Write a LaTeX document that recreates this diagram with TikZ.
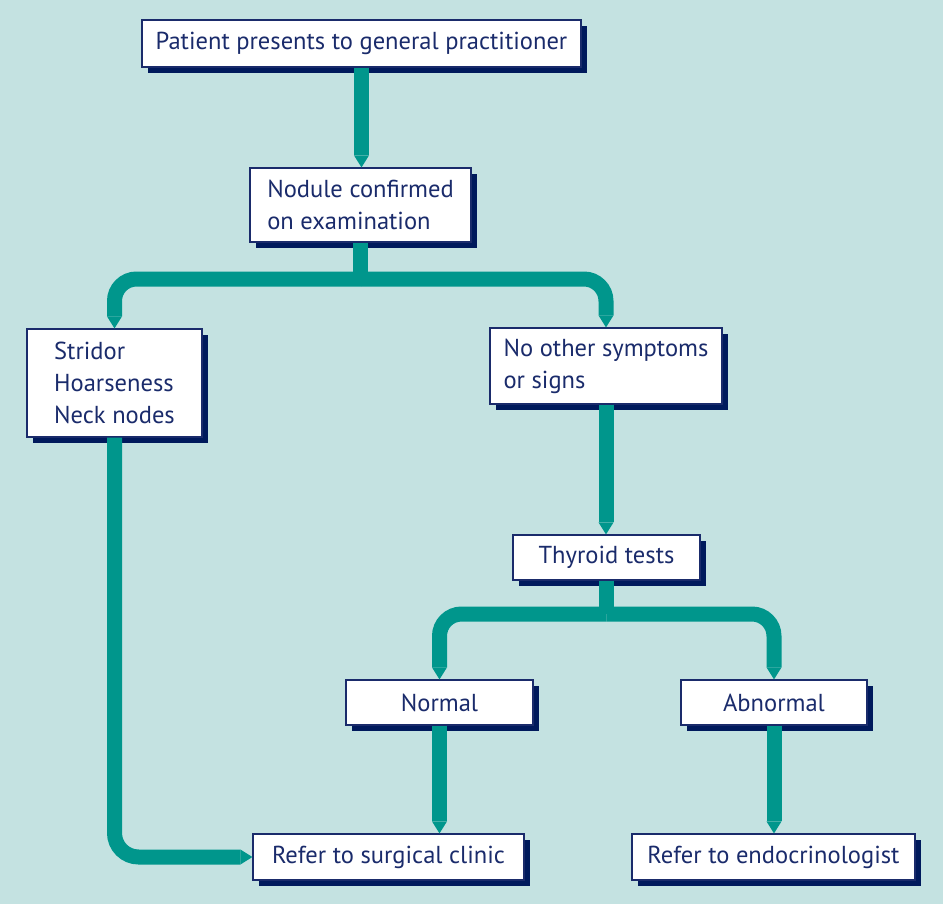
\documentclass[tikz,border=0pt]{standalone}
\usepackage{fontspec}
\setmainfont{PT Sans}
\usetikzlibrary{arrows.meta,shadows}
\definecolor{pagebg}{HTML}{C4E2E1}
\definecolor{flowteal}{HTML}{00968C}
\definecolor{ink}{HTML}{1A2B6B}
\definecolor{shade}{HTML}{001A5C}
\tikzset{
  box/.style n args={2}{draw=ink, line width=0.9pt, fill=white, text=ink,
    font=\fontsize{18.4}{24}\selectfont, align=left, inner sep=0pt,
    minimum width=#1, minimum height=#2,
    drop shadow={shadow xshift=4.2pt, shadow yshift=-4.2pt, fill=shade, opacity=1}},
  conn/.style={draw=flowteal, line width=11.25pt},
  tip/.style={conn, -{Triangle[width=11.25pt, length=9pt, line width=0pt]}},
}
\begin{document}
\begin{tikzpicture}[x=0.75pt, y=-0.75pt]
  \fill[pagebg] (0,0) rectangle (943,904);
  \useasboundingbox (0,0) rectangle (943,904);

  % boxes
  \node[box={329.25pt}{35.25pt}] (pat) at (361.5,43.5) {Patient presents to general practitioner};
  \node[box={165.75pt}{55.5pt}] (nod) at (360.5,205) {Nodule confirmed\\on examination};
  \node[box={131.25pt}{81pt}] (str) at (114.5,383) {Stridor\\Hoarseness\\Neck nodes};
  \node[box={174pt}{57pt}] (oth) at (606,366) {No other symptoms\\or signs};
  \node[box={140.25pt}{33.75pt}] (thy) at (606.5,557.5) {Thyroid tests};
  \node[box={140.25pt}{33.75pt}] (nor) at (439.5,702.5) {Normal};
  \node[box={139.5pt}{33.75pt}] (abn) at (774,702.5) {Abnormal};
  \node[box={203.25pt}{34.5pt}] (sur) at (388.5,857) {Refer to surgical clinic};
  \node[box={212.25pt}{34.5pt}] (endo) at (773.5,857) {Refer to endocrinologist};

  % connectors
  \draw[tip] (pat.south) -- (pat.south |- nod.north);

  \coordinate (j1) at (361,279);
  \draw[conn] (nod.south) -- (nod.south |- j1);
  \draw[tip, rounded corners=16.5pt] (j1) -| (str.north);
  \draw[tip, rounded corners=16.5pt] (j1) -| (oth.north);

  \draw[tip] (oth.south) -- (oth.south |- thy.north);

  \coordinate (j2) at (606.5,614);
  \draw[conn] (thy.south) -- (j2);
  \draw[tip, rounded corners=16.5pt] (j2) -| (nor.north);
  \draw[tip, rounded corners=16.5pt] (j2) -| (abn.north);

  \draw[tip] (nor.south) -- (nor.south |- sur.north);
  \draw[tip] (abn.south) -- (abn.south |- endo.north);
  \draw[tip, rounded corners=18pt] (str.south) |- (sur.west);
\end{tikzpicture}
\end{document}
